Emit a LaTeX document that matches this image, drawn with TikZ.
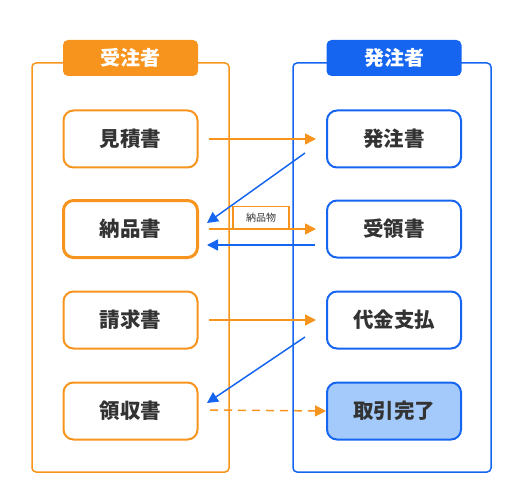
\documentclass[tikz,border=0pt]{standalone}
\usepackage{fontspec}
\setmainfont{Noto Sans CJK JP}
\usetikzlibrary{arrows.meta}
\definecolor{orng}{HTML}{F7941D}
\definecolor{blu}{HTML}{1565F0}
\definecolor{lblu}{HTML}{A3CAFA}
\definecolor{txt}{HTML}{333333}
\tikzset{
  frame/.style={draw, line width=1.5pt, rounded corners=4pt},
  hdr/.style={rounded corners=5pt, minimum width=135pt, minimum height=36pt, inner sep=0pt, text=white, font=\fontsize{20}{22}\selectfont\bfseries},
  docbox/.style={draw, line width=2pt, rounded corners=10pt, fill=white, minimum width=134pt, minimum height=57pt, inner sep=0pt, text=txt, font=\fontsize{20.5}{22}\selectfont\bfseries},
  oarr/.style={draw=orng, line width=1.5pt, -{Triangle[length=11pt,width=11pt]}},
  barr/.style={draw=blu, line width=1.5pt, -{Triangle[length=11pt,width=11pt]}},
}
\begin{document}
\begin{tikzpicture}[x=1pt,y=-1pt]
\useasboundingbox (0,0) rectangle (525,500);
% containers
\draw[frame, orng] (32,63) rectangle (229,472);
\draw[frame, blu] (293,63) rectangle (491,472);
\node[hdr, fill=orng] (hl) at (130.5,58) {受注者};
\node[hdr, fill=blu] (hr) at (394,58) {発注者};
% left boxes
\node[docbox, draw=orng] (mitsu) at (130.5,139) {見積書};
\node[docbox, draw=orng, line width=3pt] (nohin) at (130.5,229) {納品書};
\node[docbox, draw=orng] (seikyu) at (130.5,320) {請求書};
\node[docbox, draw=orng] (ryoshu) at (130.5,411) {領収書};
% right boxes
\node[docbox, draw=blu] (hatchu) at (394,139) {発注書};
\node[docbox, draw=blu] (juryo) at (394,229) {受領書};
\node[docbox, draw=blu] (daikin) at (394,320) {代金支払};
\node[docbox, draw=blu, fill=lblu] (torihiki) at (394,411) {取引完了};
% arrows
\coordinate (a1s) at (209,139); \coordinate (a1e) at (316,139);
\draw[oarr] (a1s) -- (a1e);
\coordinate (b1s) at (305,153); \coordinate (b1e) at (207,223);
\draw[barr] (b1s) -- (b1e);
\coordinate (a2s) at (209,229); \coordinate (a2e) at (316,229);
\draw[oarr] (a2s) -- (a2e);
\node[draw=orng, line width=1.2pt, fill=white, minimum width=56pt, minimum height=22pt, inner sep=0pt, anchor=south, text=txt, font=\fontsize{10}{11}\selectfont] (lbl) at (261,229) {納品物};
\coordinate (b2s) at (315,245); \coordinate (b2e) at (207,245);
\draw[barr] (b2s) -- (b2e);
\coordinate (a3s) at (209,320); \coordinate (a3e) at (316,320);
\draw[oarr] (a3s) -- (a3e);
\coordinate (b3s) at (305,337); \coordinate (b3e) at (207,403);
\draw[barr] (b3s) -- (b3e);
\coordinate (a4s) at (210,410);
\draw[oarr, dashed, dash pattern=on 8pt off 6pt] (a4s) -- (torihiki.west);
\end{tikzpicture}
\end{document}
